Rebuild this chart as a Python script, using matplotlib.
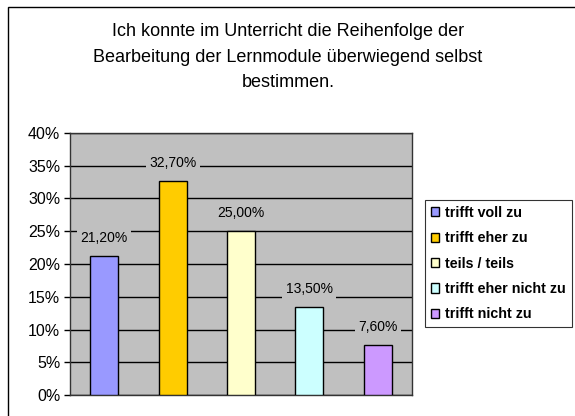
import matplotlib.pyplot as plt
from matplotlib.patches import Rectangle
from matplotlib.ticker import FuncFormatter

plt.rcParams['font.family'] = ['Liberation Sans', 'DejaVu Sans']

# Daten
categories = ['trifft voll zu', 'trifft eher zu', 'teils / teils',
              'trifft eher nicht zu', 'trifft nicht zu']
values = [21.2, 32.7, 25.0, 13.5, 7.6]
labels = ['21,20%', '32,70%', '25,00%', '13,50%', '7,60%']
colors = ['#9999FF', '#FFCC00', '#FFFFCC', '#CCFFFF', '#CC99FF']
title = ('Ich konnte im Unterricht die Reihenfolge der\n'
         'Bearbeitung der Lernmodule überwiegend selbst\n'
         'bestimmen.')

W, H = 575, 416
fig = plt.figure(figsize=(W / 100, H / 100), dpi=100)

# Rahmen um das Diagramm (nur oben/links sichtbar)
fig.patches.append(Rectangle((8 / W, -0.1), 1.2, 1.1 - 7 / H,
                             transform=fig.transFigure, fill=False,
                             edgecolor='black', linewidth=1.0))

# Plotbereich
left, right, top, bottom = 70, 412, 133, 395
ax = fig.add_axes([left / W, 1 - bottom / H, (right - left) / W, (bottom - top) / H])
ax.set_facecolor('#C0C0C0')

x = range(len(values))
bars = ax.bar(x, values, width=0.41, color=colors, edgecolor='black',
              linewidth=1.0, zorder=3)
ax.set_xlim(-0.5, len(values) - 0.5)
ax.set_ylim(0, 40)
ax.set_yticks(range(0, 41, 5))
ax.yaxis.set_major_formatter(FuncFormatter(lambda v, p: f'{int(v)}%'))
ax.tick_params(axis='y', labelsize=11.5, length=4, direction='out', width=1, pad=3)
ax.set_xticks([])
ax.grid(axis='y', color='black', linewidth=1.0, zorder=1)
ax.set_axisbelow(True)
for s in ax.spines.values():
    s.set_linewidth(1.0)
    s.set_color('#333333')

for xi, v, lab in zip(x, values, labels):
    ax.annotate(lab, (xi, v), xytext=(0, 13), textcoords='offset points',
                ha='center', va='center', fontsize=10, zorder=4,
                bbox=dict(boxstyle='square,pad=0.25', facecolor='#C0C0C0',
                          edgecolor='none'))

fig.text(288 / W, 1 - 57 / H, title, ha='center', va='center',
         fontsize=13, linespacing=1.65)

leg = fig.legend(bars, categories, loc='upper left',
                 bbox_to_anchor=(425 / W, 1 - 200 / H),
                 frameon=True, fancybox=False, edgecolor='black',
                 prop={'weight': 'bold', 'size': 10.3},
                 handlelength=0.6, handleheight=0.6, handletextpad=0.4,
                 labelspacing=0.8, borderpad=0.4, borderaxespad=0)
leg.get_frame().set_linewidth(0.8)

fig.savefig('out.png', dpi=100, facecolor='white')
